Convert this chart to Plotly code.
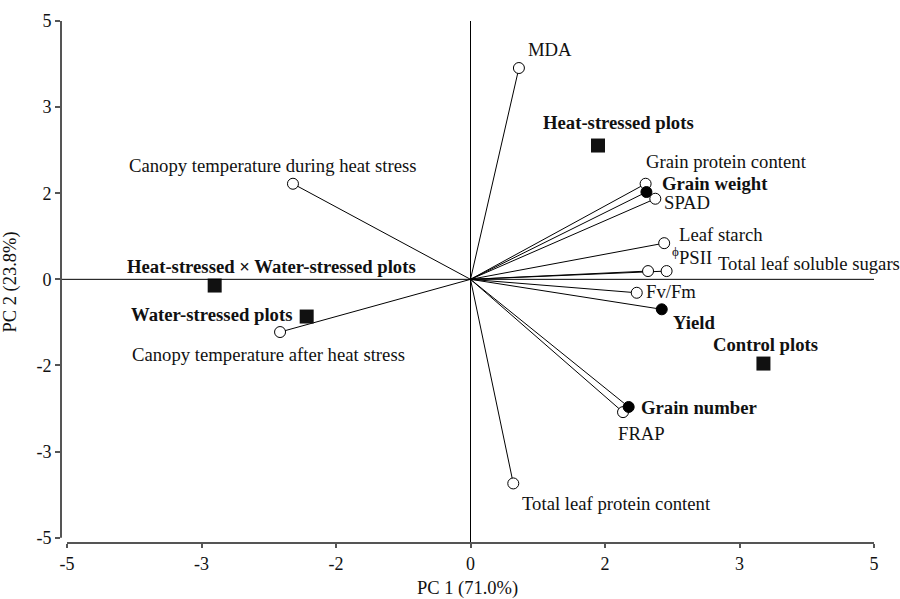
import plotly.graph_objects as go

# ---------------- data ----------------
var_names = ["MDA", "Canopy temperature during heat stress", "Canopy temperature after heat stress",
             "Grain protein content", "Grain weight", "SPAD", "Leaf starch", "<sup>ϕ</sup>PSII",
             "Total leaf soluble sugars", "Fv/Fm", "Yield", "Grain number", "FRAP",
             "Total leaf protein content"]
var_pc1 = [0.60, -2.20, -2.36, 2.17, 2.18, 2.29, 2.40, 2.20, 2.43, 2.06, 2.37, 1.96, 1.89, 0.53]
var_pc2 = [4.09, 1.85, -1.02, 1.85, 1.69, 1.56, 0.70, 0.16, 0.16, -0.26, -0.58, -2.47, -2.57, -3.95]
yield_traits = ["Grain weight", "Yield", "Grain number"]

obj_names = ["Heat-stressed plots", "Heat-stressed × Water-stressed plots",
             "Water-stressed plots", "Control plots"]
obj_pc1 = [1.58, -3.17, -2.03, 3.63]
obj_pc2 = [2.59, -0.12, -0.72, -1.63]

tick_vals = [-5, -10/3, -5/3, 0, 5/3, 10/3, 5]
tick_text = ["-5", "-3", "-2", "0", "2", "3", "5"]

# ---------------- label placement (pixels) ----------------
var_label_pos = {
    "MDA": (7, 19, "left"),
    "Canopy temperature during heat stress": (-20, 18, "center"),
    "Canopy temperature after heat stress": (-12, -22, "center"),
    "Grain protein content": (-2, 22, "left"),
    "Grain weight": (14, 9, "left"),
    "SPAD": (7, -4, "left"),
    "Leaf starch": (13, 9, "left"),
    "<sup>ϕ</sup>PSII": (22, 15, "left"),
    "Total leaf soluble sugars": (49, 8, "left"),
    "Fv/Fm": (7, 1, "left"),
    "Yield": (9, -13, "left"),
    "Grain number": (10, -1, "left"),
    "FRAP": (-7, -21, "left"),
    "Total leaf protein content": (7, -20, "left"),
}
obj_label_pos = {
    "Heat-stressed plots": (-57, 23, "left"),
    "Heat-stressed × Water-stressed plots": (-90, 19, "left"),
    "Water-stressed plots": (-13, 2, "right"),
    "Control plots": (-52, 19, "left"),
}

FONT = "Liberation Serif"
TXT = "#111111"
AX = "#555555"
LBL = 18.7

fig = go.Figure()

# vectors from origin
lx, ly = [], []
for x, y in zip(var_pc1, var_pc2):
    lx += [0, x, None]
    ly += [0, y, None]
fig.add_trace(go.Scatter(x=lx, y=ly, mode="lines", line=dict(color="black", width=1),
                         hoverinfo="skip", showlegend=False))

# open circles
ox = [x for n, x in zip(var_names, var_pc1) if n not in yield_traits]
oy = [y for n, y in zip(var_names, var_pc2) if n not in yield_traits]
fig.add_trace(go.Scatter(x=ox, y=oy, mode="markers",
                         marker=dict(symbol="circle", size=11, color="white",
                                     line=dict(color="black", width=1)),
                         showlegend=False))
# filled circles
fx = [x for n, x in zip(var_names, var_pc1) if n in yield_traits]
fy = [y for n, y in zip(var_names, var_pc2) if n in yield_traits]
fig.add_trace(go.Scatter(x=fx, y=fy, mode="markers",
                         marker=dict(symbol="circle", size=11, color="black",
                                     line=dict(color="black", width=1)),
                         showlegend=False))
# squares
fig.add_trace(go.Scatter(x=obj_pc1, y=obj_pc2, mode="markers",
                         marker=dict(symbol="square", size=14, color="#111111"),
                         showlegend=False))

ann = []
for n, x, y in zip(var_names, var_pc1, var_pc2):
    dx, dy, anc = var_label_pos[n]
    txt = f"<b>{n}</b>" if n in yield_traits else n
    ann.append(dict(x=x, y=y, xref="x", yref="y", text=txt, showarrow=False,
                    xshift=dx, yshift=dy, xanchor=anc, yanchor="middle",
                    font=dict(family=FONT, size=LBL, color=TXT)))
for n, x, y in zip(obj_names, obj_pc1, obj_pc2):
    dx, dy, anc = obj_label_pos[n]
    ann.append(dict(x=x, y=y, xref="x", yref="y", text=f"<b>{n}</b>", showarrow=False,
                    xshift=dx, yshift=dy, xanchor=anc, yanchor="middle",
                    font=dict(family=FONT, size=LBL, color=TXT)))

xmin, ymin = -5.0744, -5.103
shapes = [
    # zero lines
    dict(type="line", xref="x", yref="y", x0=xmin, x1=5, y0=0, y1=0,
         line=dict(color="black", width=1)),
    dict(type="line", xref="x", yref="y", x0=0, x1=0, y0=ymin, y1=5,
         line=dict(color="black", width=1)),
    # axis lines (detached)
    dict(type="line", xref="x", yref="paper", x0=-5, x1=5, y0=0, y1=0,
         line=dict(color=AX, width=2)),
    dict(type="line", xref="paper", yref="y", x0=0, x1=0, y0=-5, y1=5,
         line=dict(color=AX, width=2)),
]

fig.update_layout(
    width=900, height=599,
    margin=dict(l=61, r=26, t=21, b=56),
    paper_bgcolor="white", plot_bgcolor="white",
    font=dict(family=FONT, size=18, color=TXT),
    annotations=ann, shapes=shapes, showlegend=False,
    xaxis=dict(range=[xmin, 5], tickvals=tick_vals, ticktext=tick_text,
               showgrid=False, zeroline=False, showline=False, automargin=False,
               ticks="outside", ticklen=4, tickwidth=2, tickcolor=AX,
               tickfont=dict(family=FONT, size=18, color=TXT),
               title=dict(text="PC 1 (71.0%)", font=dict(family=FONT, size=18.5, color=TXT),
                          standoff=14)),
    yaxis=dict(range=[ymin, 5], tickvals=tick_vals, ticktext=tick_text,
               showgrid=False, zeroline=False, showline=False, automargin=False,
               ticks="outside", ticklen=5, tickwidth=2, tickcolor=AX,
               tickfont=dict(family=FONT, size=18, color=TXT),
               title=dict(text="PC 2 (23.8%)", font=dict(family=FONT, size=18.5, color=TXT),
                          standoff=14)),
)

fig.write_html("out.html")
